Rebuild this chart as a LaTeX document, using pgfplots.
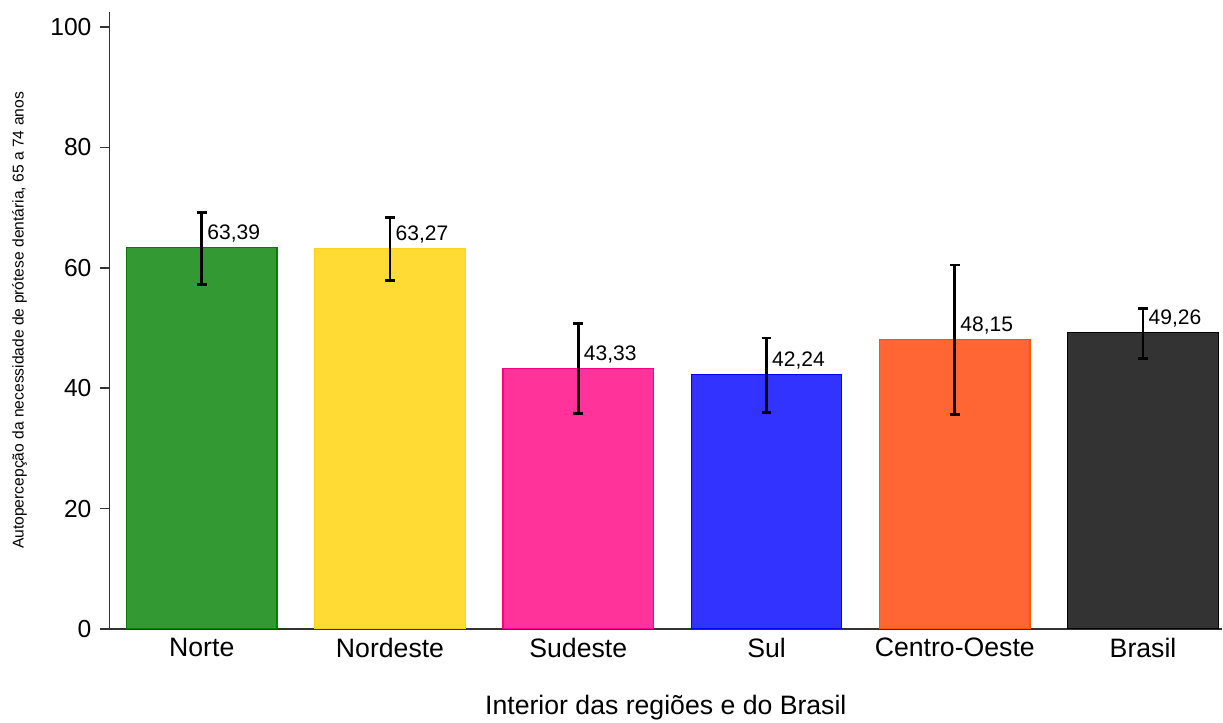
\documentclass[border=0pt]{standalone}
\usepackage{pgfplots}
\pgfplotsset{compat=1.18}
\usepackage{fontspec}
\setmainfont{Liberation Sans}

\definecolor{cnorte}{HTML}{339933}
\definecolor{cnorteE}{HTML}{008000}
\definecolor{cnordeste}{HTML}{FFDB33}
\definecolor{cnordesteE}{HTML}{FFD21A}
\definecolor{csudeste}{HTML}{FF3399}
\definecolor{csudesteE}{HTML}{FF0080}
\definecolor{csul}{HTML}{3333FF}
\definecolor{csulE}{HTML}{0000FF}
\definecolor{ccentro}{HTML}{FF6633}
\definecolor{ccentroE}{HTML}{FF5500}
\definecolor{cbrasil}{HTML}{333333}
\definecolor{cbrasilE}{HTML}{000000}

\begin{document}
\begin{tikzpicture}
\begin{axis}[
    scale only axis,
    width=555.5pt, height=308pt,
    ybar, bar width=0.8, bar shift=0pt,
    xmin=-0.49, xmax=5.42,
    ymin=0, ymax=102.5,
    axis lines*=left,
    axis line style={line width=0.9pt, color=black!80},
    xtick={0,...,5},
    xticklabels={Norte,Nordeste,Sudeste,Sul,Centro-Oeste,Brasil},
    x tick style={draw=none},
    ytick={0,20,...,100},
    y tick style={line width=0.9pt, color=black!80},
    tick align=outside, major tick length=5pt,
    /pgf/number format/assume math mode=true,
    x tick label style={font=\fontsize{13.3}{16}\selectfont, yshift=4pt},
    y tick label style={font=\fontsize{12.3}{15}\selectfont, xshift=-0.5pt},
    xlabel={Interior das regiões e do Brasil},
    xlabel style={font=\fontsize{13.3}{16}\selectfont, inner sep=1pt, yshift=-14.5pt},
    ylabel={Autopercepção da necessidade de prótese dentária, 65 a 74 anos},
    ylabel style={font=\fontsize{7.8}{9}\selectfont, inner sep=6pt, yshift=2.2pt},
    nodes near coords,
    nodes near coords style={
        font=\fontsize{10.5}{12}\selectfont, anchor=base west,
        inner sep=0pt, xshift=2.5pt, yshift=4pt,
        /pgf/number format/.cd, fixed, fixed zerofill, precision=2, use comma, assume math mode=true},
    error bars/y dir=both, error bars/y explicit,
    error bars/error bar style={line width=1.3pt, black},
    error bars/error mark options={line width=1.3pt, black, mark size=2.4pt, rotate=90},
]
\addplot[fill=cnorte, draw=cnorteE, line width=0.6pt]
    coordinates {(0,63.39) += (0,5.8) -= (0,6.2)};
\addplot[fill=cnordeste, draw=cnordesteE, line width=0.6pt]
    coordinates {(1,63.27) += (0,5.1) -= (0,5.4)};
\addplot[fill=csudeste, draw=csudesteE, line width=0.6pt]
    coordinates {(2,43.33) += (0,7.4) -= (0,7.5)};
\addplot[fill=csul, draw=csulE, line width=0.6pt]
    coordinates {(3,42.24) += (0,6.1) -= (0,6.3)};
\addplot[fill=ccentro, draw=ccentroE, line width=0.6pt]
    coordinates {(4,48.15) += (0,12.3) -= (0,12.5)};
\addplot[fill=cbrasil, draw=cbrasilE, line width=0.6pt]
    coordinates {(5,49.26) += (0,4.0) -= (0,4.3)};
\end{axis}
\path ([yshift=6pt]current axis.north);
\end{tikzpicture}
\end{document}
